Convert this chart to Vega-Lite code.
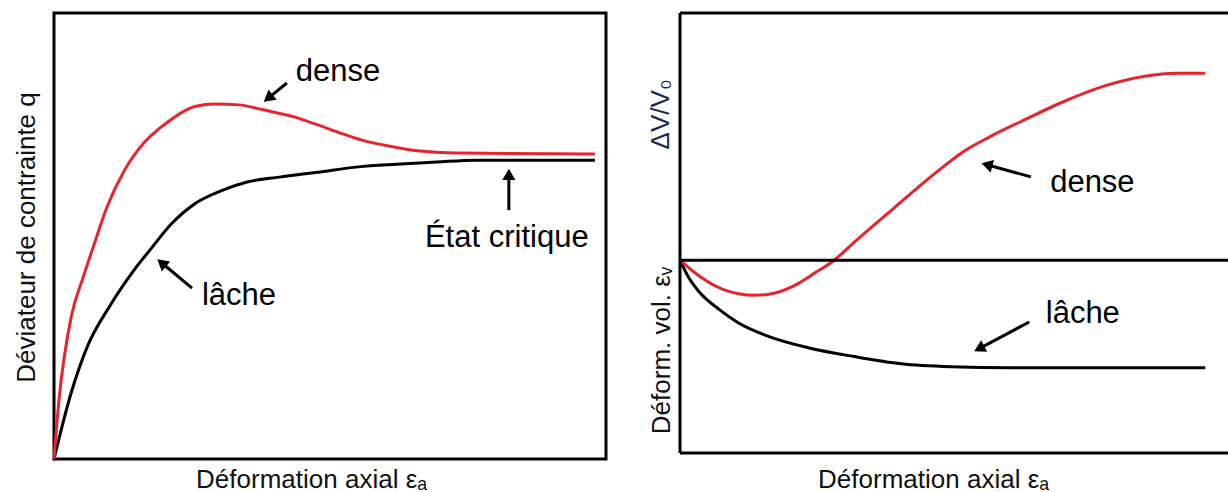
{
  "$schema": "https://vega.github.io/schema/vega-lite/v6.json",
  "background": "white",
  "padding": {"left": 11, "top": 11, "right": 0, "bottom": 0},
  "spacing": 74,
  "bounds": "flush",
  "config": {
    "font": "Liberation Sans",
    "axis": {
      "labels": false,
      "ticks": false,
      "domain": false,
      "grid": false,
      "titleFont": "Liberation Sans",
      "titleFontSize": 26,
      "titleFontWeight": "normal",
      "titleColor": "#111111",
      "titleBaseline": "alphabetic",
      "titleAlign": "center"
    }
  },
  "datasets": {
    "deviateur": [
      {"etat": "lâche", "x": 0, "y": 0},
      {"etat": "lâche", "x": 3.1, "y": 14.8},
      {"etat": "lâche", "x": 6.0, "y": 25.1},
      {"etat": "lâche", "x": 10.0, "y": 34.1},
      {"etat": "lâche", "x": 14.1, "y": 41.7},
      {"etat": "lâche", "x": 17.8, "y": 47.5},
      {"etat": "lâche", "x": 21.4, "y": 52.9},
      {"etat": "lâche", "x": 25.7, "y": 57.4},
      {"etat": "lâche", "x": 30.6, "y": 60.3},
      {"etat": "lâche", "x": 35.0, "y": 62.1},
      {"etat": "lâche", "x": 40.8, "y": 63.2},
      {"etat": "lâche", "x": 47.8, "y": 64.3},
      {"etat": "lâche", "x": 55.1, "y": 65.5},
      {"etat": "lâche", "x": 62.1, "y": 66.1},
      {"etat": "lâche", "x": 69.4, "y": 66.6},
      {"etat": "lâche", "x": 76.4, "y": 67.0},
      {"etat": "lâche", "x": 98.0, "y": 67.0},
      {"etat": "dense", "x": 0, "y": 0},
      {"etat": "dense", "x": 0.9, "y": 13.2},
      {"etat": "dense", "x": 3.1, "y": 31.8},
      {"etat": "dense", "x": 5.3, "y": 40.8},
      {"etat": "dense", "x": 7.1, "y": 47.5},
      {"etat": "dense", "x": 9.6, "y": 56.5},
      {"etat": "dense", "x": 12.8, "y": 64.8},
      {"etat": "dense", "x": 16.3, "y": 70.9},
      {"etat": "dense", "x": 19.9, "y": 74.9},
      {"etat": "dense", "x": 25.7, "y": 79.1},
      {"etat": "dense", "x": 29.2, "y": 79.6},
      {"etat": "dense", "x": 33.5, "y": 79.4},
      {"etat": "dense", "x": 37.9, "y": 78.3},
      {"etat": "dense", "x": 43.5, "y": 76.7},
      {"etat": "dense", "x": 47.8, "y": 74.9},
      {"etat": "dense", "x": 51.4, "y": 73.3},
      {"etat": "dense", "x": 55.8, "y": 71.5},
      {"etat": "dense", "x": 61.4, "y": 70.0},
      {"etat": "dense", "x": 65.8, "y": 69.1},
      {"etat": "dense", "x": 73.0, "y": 68.6},
      {"etat": "dense", "x": 98.0, "y": 68.4}
    ],
    "volume": [
      {"etat": "lâche", "x": 0, "y": 0},
      {"etat": "lâche", "x": 1.45, "y": -6.5},
      {"etat": "lâche", "x": 3.55, "y": -13.0},
      {"etat": "lâche", "x": 7.1, "y": -19.9},
      {"etat": "lâche", "x": 10.5, "y": -25.2},
      {"etat": "lâche", "x": 16.2, "y": -30.9},
      {"etat": "lâche", "x": 23.3, "y": -35.4},
      {"etat": "lâche", "x": 31.7, "y": -39.0},
      {"etat": "lâche", "x": 40.2, "y": -41.9},
      {"etat": "lâche", "x": 49.3, "y": -43.1},
      {"etat": "lâche", "x": 60.0, "y": -43.5},
      {"etat": "lâche", "x": 95.5, "y": -43.5},
      {"etat": "dense", "x": 0, "y": 0},
      {"etat": "dense", "x": 3.55, "y": -6.5},
      {"etat": "dense", "x": 7.8, "y": -11.8},
      {"etat": "dense", "x": 13.5, "y": -14.2},
      {"etat": "dense", "x": 16.2, "y": -13.8},
      {"etat": "dense", "x": 20.5, "y": -10.6},
      {"etat": "dense", "x": 24.7, "y": -4.9},
      {"etat": "dense", "x": 27.8, "y": -0.4},
      {"etat": "dense", "x": 31.7, "y": 7.3},
      {"etat": "dense", "x": 38.7, "y": 20.7},
      {"etat": "dense", "x": 45.8, "y": 34.1},
      {"etat": "dense", "x": 51.5, "y": 43.9},
      {"etat": "dense", "x": 56.4, "y": 50.0},
      {"etat": "dense", "x": 62.0, "y": 56.1},
      {"etat": "dense", "x": 69.8, "y": 64.2},
      {"etat": "dense", "x": 77.5, "y": 70.7},
      {"etat": "dense", "x": 84.5, "y": 74.4},
      {"etat": "dense", "x": 90.2, "y": 75.6},
      {"etat": "dense", "x": 95.5, "y": 75.6}
    ],
    "notes_q": [
      {"label": "dense", "x": 43.8, "y": 84.8},
      {"label": "lâche", "x": 26.8, "y": 34.5},
      {"label": "État critique", "x": 67.2, "y": 47.5}
    ],
    "fleches_q": [
      {"hx": 38.8, "hy": 80.9, "tx": 42.2, "ty": 84.3},
      {"hx": 19.5, "hy": 44.0, "tx": 25.0, "ty": 38.3},
      {"hx": 82.4, "hy": 63.8, "tx": 82.4, "ty": 55.8}
    ],
    "notes_v": [
      {"label": "dense", "x": 67.3, "y": 27.6},
      {"label": "lâche", "x": 66.5, "y": -25.4}
    ],
    "fleches_v": [
      {"hx": 55.8, "hy": 38.6, "tx": 63.8, "ty": 33.7},
      {"hx": 54.4, "hy": -35.8, "tx": 63.5, "ty": -25.0}
    ],
    "cadre_h": [{"y": 100}, {"y": 0}, {"y": -78}],
    "cadre_v": [{"x": 0}],
    "titre_v": [{"label": "ΔV/V₀", "x": -2, "y": 59}]
  },
  "hconcat": [
    {
      "width": 552,
      "height": 446,
      "view": {"stroke": "#000000", "strokeWidth": 3},
      "layer": [
        {
          "data": {"name": "deviateur"},
          "mark": {"type": "line", "strokeWidth": 3, "interpolate": "monotone"},
          "encoding": {
            "x": {
              "field": "x", "type": "quantitative",
              "scale": {"domain": [0, 100], "nice": false, "zero": false},
              "axis": {"title": "Déformation axial εₐ", "titleX": 257, "titleY": 28}
            },
            "y": {
              "field": "y", "type": "quantitative",
              "scale": {"domain": [0, 100], "nice": false, "zero": false},
              "axis": {"title": "Déviateur de contrainte q", "titleX": -20, "titleY": 224, "titleAngle": 270}
            },
            "color": {
              "field": "etat", "type": "nominal",
              "scale": {"domain": ["dense", "lâche"], "range": ["#e8232b", "#000000"]},
              "legend": null
            }
          }
        },
        {
          "data": {"name": "fleches_q"},
          "mark": {"type": "rule", "strokeWidth": 3, "color": "#000000"},
          "encoding": {
            "x": {"field": "hx", "type": "quantitative"},
            "y": {"field": "hy", "type": "quantitative"},
            "x2": {"field": "tx"},
            "y2": {"field": "ty"}
          }
        },
        {
          "data": {"name": "fleches_q"},
          "transform": [
            {"calculate": "atan2((datum.hx - datum.tx) * 5.52, (datum.hy - datum.ty) * 4.46) * 180 / PI", "as": "rot"}
          ],
          "mark": {"type": "point", "shape": "triangle-up", "filled": true, "size": 170, "color": "#000000", "opacity": 1},
          "encoding": {
            "x": {"field": "hx", "type": "quantitative"},
            "y": {"field": "hy", "type": "quantitative"},
            "angle": {"field": "rot", "type": "quantitative", "scale": null}
          }
        },
        {
          "data": {"name": "notes_q"},
          "mark": {"type": "text", "fontSize": 31, "align": "left", "baseline": "alphabetic", "color": "#000000", "font": "Liberation Sans"},
          "encoding": {
            "x": {"field": "x", "type": "quantitative"},
            "y": {"field": "y", "type": "quantitative"},
            "text": {"field": "label"}
          }
        }
      ]
    },
    {
      "width": 550,
      "height": 440,
      "view": {"stroke": null},
      "layer": [
        {
          "data": {"name": "volume"},
          "mark": {"type": "line", "strokeWidth": 3, "interpolate": "monotone"},
          "encoding": {
            "x": {
              "field": "x", "type": "quantitative",
              "scale": {"domain": [0, 100], "nice": false, "zero": false},
              "axis": {"title": "Déformation axial εₐ", "titleX": 253, "titleY": 34}
            },
            "y": {
              "field": "y", "type": "quantitative",
              "scale": {"domain": [-78, 100], "nice": false, "zero": false},
              "axis": {"title": "Déform. vol. εᵥ", "titleX": -11, "titleY": 337, "titleAngle": 270}
            },
            "color": {
              "field": "etat", "type": "nominal",
              "scale": {"domain": ["dense", "lâche"], "range": ["#e8232b", "#000000"]},
              "legend": null
            }
          }
        },
        {
          "data": {"name": "cadre_h"},
          "mark": {"type": "rule", "strokeWidth": 3, "color": "#000000"},
          "encoding": {"y": {"field": "y", "type": "quantitative"}}
        },
        {
          "data": {"name": "cadre_v"},
          "mark": {"type": "rule", "strokeWidth": 3, "color": "#000000"},
          "encoding": {"x": {"field": "x", "type": "quantitative"}}
        },
        {
          "data": {"name": "fleches_v"},
          "mark": {"type": "rule", "strokeWidth": 3, "color": "#000000"},
          "encoding": {
            "x": {"field": "hx", "type": "quantitative"},
            "y": {"field": "hy", "type": "quantitative"},
            "x2": {"field": "tx"},
            "y2": {"field": "ty"}
          }
        },
        {
          "data": {"name": "fleches_v"},
          "transform": [
            {"calculate": "atan2((datum.hx - datum.tx) * 5.5, (datum.hy - datum.ty) * 2.472) * 180 / PI", "as": "rot"}
          ],
          "mark": {"type": "point", "shape": "triangle-up", "filled": true, "size": 170, "color": "#000000", "opacity": 1},
          "encoding": {
            "x": {"field": "hx", "type": "quantitative"},
            "y": {"field": "hy", "type": "quantitative"},
            "angle": {"field": "rot", "type": "quantitative", "scale": null}
          }
        },
        {
          "data": {"name": "notes_v"},
          "mark": {"type": "text", "fontSize": 31, "align": "left", "baseline": "alphabetic", "color": "#000000", "font": "Liberation Sans"},
          "encoding": {
            "x": {"field": "x", "type": "quantitative"},
            "y": {"field": "y", "type": "quantitative"},
            "text": {"field": "label"}
          }
        },
        {
          "data": {"name": "titre_v"},
          "mark": {"type": "text", "fontSize": 26, "align": "center", "baseline": "alphabetic", "angle": 270, "color": "#1b2a55", "font": "Liberation Sans"},
          "encoding": {
            "x": {"field": "x", "type": "quantitative"},
            "y": {"field": "y", "type": "quantitative"},
            "text": {"field": "label"}
          }
        }
      ]
    }
  ]
}
